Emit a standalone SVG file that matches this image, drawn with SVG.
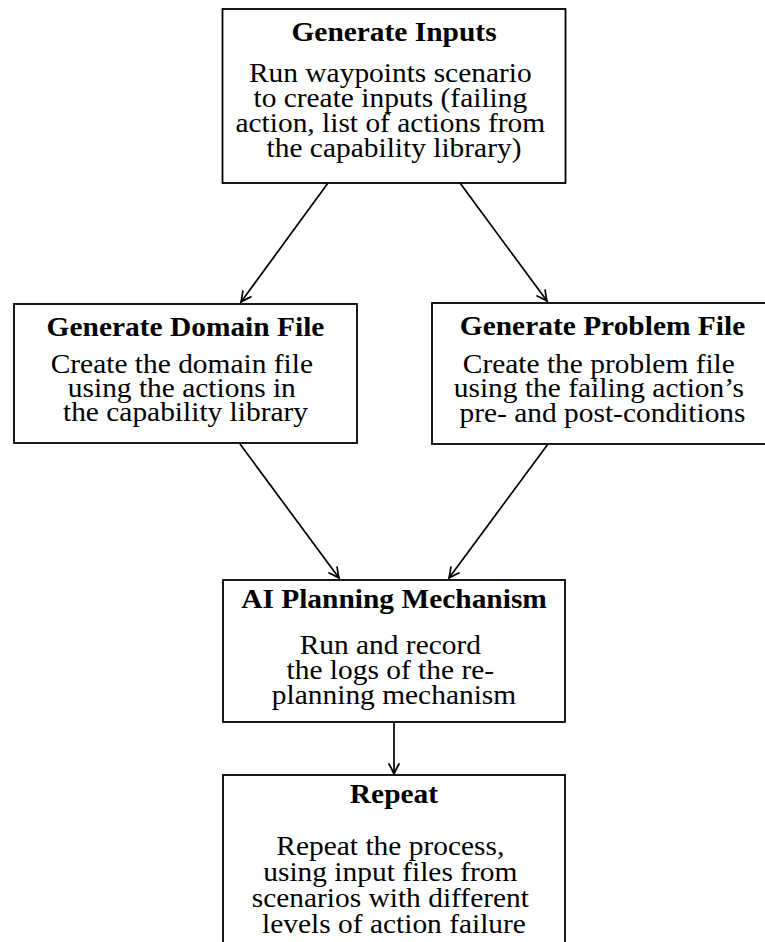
<svg xmlns="http://www.w3.org/2000/svg" width="765" height="942" viewBox="0 0 765 942">
  <style>
    .box { fill: #ffffff; stroke: #000000; stroke-width: 1.8; }
    .title { font-family: "Liberation Serif", "Times New Roman", serif; font-size: 27px; font-weight: bold; text-anchor: middle; fill: #000000; }
    .body { font-family: "Liberation Serif", "Times New Roman", serif; font-size: 27px; text-anchor: middle; fill: #000000; }
    .edge { fill: none; stroke: #000000; stroke-width: 1.7; marker-end: url(#arrow); }
  </style>
  <defs>
    <marker id="arrow" markerUnits="userSpaceOnUse" viewBox="-12 -7 14 14" markerWidth="14" markerHeight="14" refX="0" refY="0" orient="auto">
      <path d="M -10,-5 Q -3,-1.2 0,0 Q -3,1.2 -10,5" fill="none" stroke="#000000" stroke-width="1.7" stroke-linecap="round"/>
    </marker>
  </defs>

  <rect width="765" height="942" fill="#ffffff"/>

  <!-- connectors -->
  <g id="connectors">
    <line class="edge" x1="328" y1="183" x2="241" y2="302"/>
    <line class="edge" x1="460" y1="183" x2="547" y2="301"/>
    <line class="edge" x1="240" y1="444" x2="339" y2="578"/>
    <line class="edge" x1="548" y1="444" x2="449" y2="578"/>
    <line class="edge" x1="394" y1="722" x2="394" y2="774"/>
  </g>

  <!-- step 1 -->
  <g id="generate-inputs">
    <rect class="box" x="222.5" y="9" width="343" height="174"/>
    <g transform="translate(394,0) scale(1.09,1)">
      <text class="title" x="0" y="41">Generate Inputs</text>
      <text class="body">
        <tspan x="0" y="82">Run waypoints scenario</tspan>
        <tspan x="0" y="107">to create inputs (failing</tspan>
        <tspan x="0" y="132">action, list of actions from</tspan>
        <tspan x="0" y="157">the capability library)</tspan>
      </text>
    </g>
  </g>

  <!-- step 2a -->
  <g id="generate-domain-file">
    <rect class="box" x="14" y="304" width="343" height="139"/>
    <g transform="translate(185.5,0) scale(1.09,1)">
      <text class="title" x="0" y="336">Generate Domain File</text>
      <text class="body">
        <tspan x="0" y="373">Create the domain file</tspan>
        <tspan x="0" y="397">using the actions in</tspan>
        <tspan x="0" y="421.5">the capability library</tspan>
      </text>
    </g>
  </g>

  <!-- step 2b -->
  <g id="generate-problem-file">
    <rect class="box" x="432" y="303" width="343" height="141"/>
    <g transform="translate(602.5,0) scale(1.09,1)">
      <text class="title" x="0" y="335.5">Generate Problem File</text>
      <text class="body">
        <tspan x="0" y="373">Create the problem file</tspan>
        <tspan x="0" y="397.5">using the failing action’s</tspan>
        <tspan x="0" y="422">pre- and post-conditions</tspan>
      </text>
    </g>
  </g>

  <!-- step 3 -->
  <g id="ai-planning-mechanism">
    <rect class="box" x="223" y="580" width="342" height="142"/>
    <g transform="translate(394,0) scale(1.09,1)">
      <text class="title" x="0" y="608.5">AI Planning Mechanism</text>
      <text class="body">
        <tspan x="0" y="654.5">Run and record</tspan>
        <tspan x="0" y="679.5">the logs of the re-</tspan>
        <tspan x="0" y="704.5">planning mechanism</tspan>
      </text>
    </g>
  </g>

  <!-- step 4 -->
  <g id="repeat">
    <rect class="box" x="223" y="775" width="342" height="190"/>
    <g transform="translate(394,0) scale(1.09,1)">
      <text class="title" x="0" y="803">Repeat</text>
      <text class="body">
        <tspan x="0" y="855.5">Repeat the process,</tspan>
        <tspan x="0" y="881.5">using input files from</tspan>
        <tspan x="0" y="907.5">scenarios with different</tspan>
        <tspan x="0" y="933">levels of action failure</tspan>
      </text>
    </g>
  </g>
</svg>
